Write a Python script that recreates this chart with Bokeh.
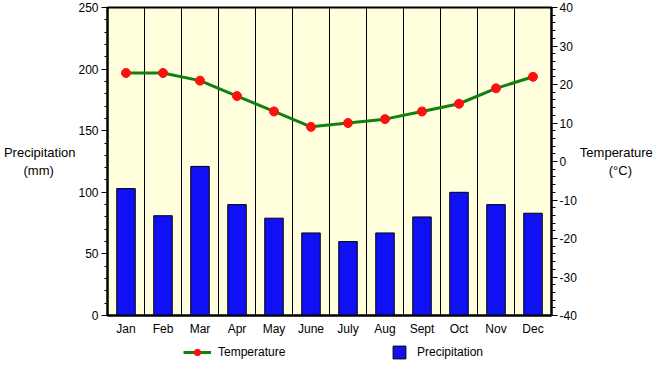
from bokeh.plotting import figure
from bokeh.layouts import column
from bokeh.models import (Range1d, LinearAxis, SingleIntervalTicker, FixedTicker,
                          Legend, LegendItem, ColumnDataSource, PrintfTickFormatter)
from bokeh.embed import file_html
from bokeh.resources import INLINE

months = ["Jan", "Feb", "Mar", "Apr", "May", "June", "July", "Aug", "Sept", "Oct", "Nov", "Dec"]
precipitation = [103, 81, 121, 90, 79, 67, 60, 67, 80, 100, 90, 83]
temperature = [23, 23, 21, 17, 13, 9, 10, 11, 13, 15, 19, 22]

FONT = "Liberation Sans"
NB = "\u00a0"
idx = list(range(len(months)))
src = ColumnDataSource(dict(x=idx, precip=precipitation, temp=temperature))

BAR_FILL = "#1010F5"
LINE_COL = "#108010"
DOT_COL = "#FF1010"

p = figure(width=655, height=341, output_backend="svg", toolbar_location=None,
           title=None, x_range=Range1d(-0.5, len(months) - 0.5), y_range=Range1d(0, 250),
           min_border_left=98, min_border_right=100, min_border_top=7, min_border_bottom=26)
p.extra_y_ranges = {"temp": Range1d(-40, 40)}

p.background_fill_color = "#FFFFDD"
p.border_fill_color = "white"
p.outline_line_color = "black"
p.outline_line_width = 2

# grids
p.ygrid.visible = False
p.xgrid.ticker = FixedTicker(ticks=[i + 0.5 for i in idx[:-1]])
p.xgrid.grid_line_color = "black"
p.xgrid.grid_line_width = 1
p.xgrid.grid_line_alpha = 1

# x axis
xa = p.xaxis[0]
xa.ticker = FixedTicker(ticks=idx)
xa.major_label_overrides = {i: m for i, m in zip(idx, months)}
xa.major_tick_out = 0
xa.major_tick_in = 0
xa.minor_tick_out = 0
xa.major_label_standoff = 6
xa.axis_line_width = 2
xa.axis_line_color = "black"
xa.major_label_text_font = FONT
xa.major_label_text_font_size = "12px"
xa.major_label_text_color = "black"

# left axis
ya = p.yaxis[0]
ya.ticker = SingleIntervalTicker(interval=50, num_minor_ticks=5)
ya.formatter = PrintfTickFormatter(format="%d")
ya.major_tick_out = 6
ya.major_tick_in = 0
ya.minor_tick_out = 3
ya.minor_tick_in = 0
ya.major_label_standoff = 3
ya.axis_line_width = 2
ya.axis_line_color = "black"
ya.major_tick_line_color = "black"
ya.minor_tick_line_color = "black"
ya.major_label_text_font = FONT
ya.major_label_text_font_size = "12px"
ya.major_label_text_color = "black"
ya.axis_label = "Precipitation\n(mm)" + NB * 6
ya.axis_label_orientation = "horizontal"
ya.axis_label_standoff = 0
ya.axis_label_text_font = FONT
ya.axis_label_text_font_size = "13px"
ya.axis_label_text_font_style = "normal"
ya.axis_label_text_color = "black"

# right axis
ra = LinearAxis(y_range_name="temp",
                ticker=SingleIntervalTicker(interval=10, num_minor_ticks=5),
                formatter=PrintfTickFormatter(format="%d"))
ra.major_tick_out = 6
ra.major_tick_in = 0
ra.minor_tick_out = 4
ra.minor_tick_in = 0
ra.major_label_standoff = 2
ra.axis_line_width = 2
ra.axis_line_color = "black"
ra.major_tick_line_color = "black"
ra.minor_tick_line_color = "black"
ra.major_label_text_font = FONT
ra.major_label_text_font_size = "12px"
ra.major_label_text_color = "black"
ra.axis_label = "Temperature\n" + NB * 8 + "(°C)"
ra.axis_label_orientation = "horizontal"
ra.axis_label_standoff = 0
ra.axis_label_text_font = FONT
ra.axis_label_text_font_size = "13px"
ra.axis_label_text_font_style = "normal"
ra.axis_label_text_color = "black"
p.add_layout(ra, "right")

# glyphs
p.vbar(x="x", top="precip", width=0.5, bottom=0, source=src,
       fill_color=BAR_FILL, line_color="black", line_width=1)
p.line(x="x", y="temp", source=src, y_range_name="temp",
       line_color=LINE_COL, line_width=3)
p.scatter(x="x", y="temp", source=src, y_range_name="temp",
          size=9, fill_color=DOT_COL, line_color=DOT_COL)

# legend strip (separate figure so the legend is not clipped by the main frame)
lf = figure(width=655, height=22, output_backend="svg", toolbar_location=None,
            title=None, x_axis_location=None, y_axis_location=None,
            x_range=Range1d(-0.5, len(months) - 0.5), y_range=Range1d(1000, 1001),
            min_border_left=0, min_border_right=0, min_border_top=0, min_border_bottom=0)
lf.outline_line_color = None
lf.background_fill_color = "white"
lf.border_fill_color = "white"
lf.grid.visible = False
l_bars = lf.vbar(x="x", top="precip", width=0.5, bottom=0, source=src,
                 fill_color=BAR_FILL, line_color="black", line_width=1)
l_line = lf.line(x="x", y="temp", source=src, line_color=LINE_COL, line_width=3)
l_dots = lf.scatter(x="x", y="temp", source=src, size=9,
                    fill_color=DOT_COL, line_color=DOT_COL)

common = dict(glyph_height=16, label_height=16, padding=0, margin=0,
              border_line_color=None, background_fill_alpha=0,
              label_text_font=FONT, label_text_font_size="12px", label_text_color="black")
leg1 = Legend(items=[LegendItem(label="Temperature", renderers=[l_line, l_dots])],
              location=(76, 3), glyph_width=28, label_standoff=7, **common)
leg2 = Legend(items=[LegendItem(label="Precipitation", renderers=[l_bars])],
              location=(284, 3), glyph_width=16, label_standoff=10, **common)
lf.add_layout(leg1, "center")
lf.add_layout(leg2, "center")

layout = column(p, lf, spacing=0)
open("out.html", "w").write(file_html(layout, INLINE))
